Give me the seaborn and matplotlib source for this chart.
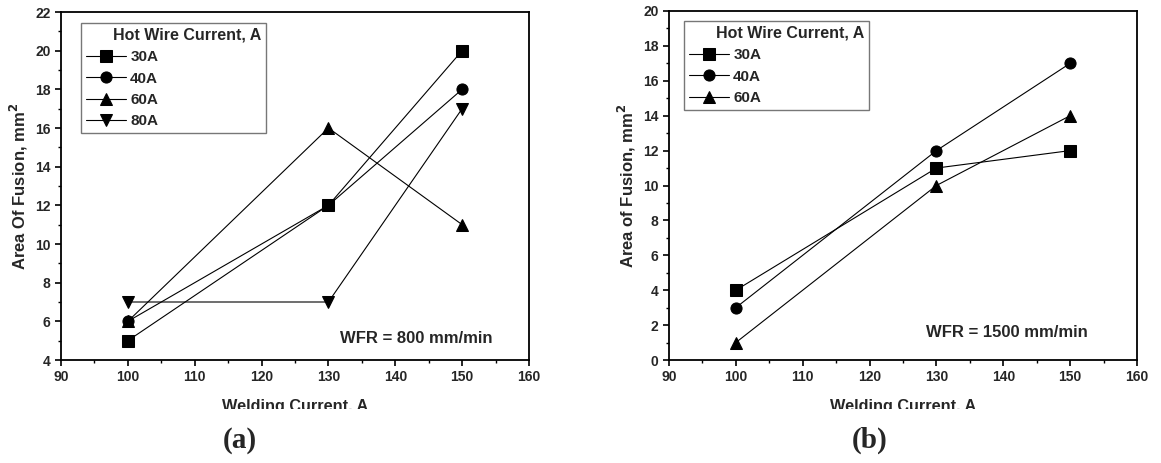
import matplotlib
matplotlib.use("Agg")
import matplotlib.pyplot as plt
import seaborn as sns
import pandas as pd
from matplotlib.ticker import MultipleLocator
from matplotlib.transforms import Bbox

welding_current = [100, 130, 150]

# panel (a): WFR = 800 mm/min
a_series = ["30A", "40A", "60A", "80A"]
a_30 = [5, 12, 20]
a_40 = [6, 12, 18]
a_60 = [6, 16, 11]
a_80 = [7, 7, 17]

# panel (b): WFR = 1500 mm/min
b_series = ["30A", "40A", "60A"]
b_30 = [4, 11, 12]
b_40 = [3, 12, 17]
b_60 = [1, 10, 14]

markers_map = {"30A": "s", "40A": "o", "60A": "^", "80A": "v"}

sns.set_theme(style="white")
plt.rcParams["font.family"] = ["Liberation Sans", "DejaVu Sans"]
plt.rcParams["font.weight"] = "bold"

W, H = 1161, 463
fig = plt.figure(figsize=(W / 100, H / 100), dpi=100)

def px_axes(x0, y0, x1, y1):
    return fig.add_axes([x0 / W, 1 - y1 / H, (x1 - x0) / W, (y1 - y0) / H])

ax_a = px_axes(61, 12, 529, 360)
ax_b = px_axes(669, 11, 1137, 360)

def make_df(series, values):
    rows = []
    for s, vals in zip(series, values):
        for x, y in zip(welding_current, vals):
            rows.append({"Welding": x, "Area": y, "Hot": s})
    return pd.DataFrame(rows)

df_a = make_df(a_series, [a_30, a_40, a_60, a_80])
df_b = make_df(b_series, [b_30, b_40, b_60])

def draw(ax, df, series, ylim, ylabel, wfr, wfr_pos, legend_box, label_letter, letter_x):
    sns.lineplot(data=df, x="Welding", y="Area", style="Hot", style_order=series,
                 markers={s: markers_map[s] for s in series}, dashes=False,
                 color="black", linewidth=0.8, markersize=8, markeredgecolor="black",
                 ax=ax, legend=True)
    ax.set_xlim(90, 160)
    ax.set_ylim(*ylim)
    ax.xaxis.set_major_locator(MultipleLocator(10))
    ax.xaxis.set_minor_locator(MultipleLocator(5))
    ax.yaxis.set_major_locator(MultipleLocator(2))
    ax.yaxis.set_minor_locator(MultipleLocator(1))
    ax.tick_params(which="major", direction="out", length=4.5, width=1.2, color="black",
                   labelsize=10, bottom=True, left=True, top=False, right=False, pad=3)
    ax.tick_params(which="minor", direction="out", length=2.5, width=1.0, color="black",
                   bottom=True, left=True, top=False, right=False)
    for lab in ax.get_xticklabels() + ax.get_yticklabels():
        lab.set_fontweight("bold")
    for sp in ax.spines.values():
        sp.set_color("black")
        sp.set_linewidth(1.3)
        sp.set_visible(True)
    ax.set_ylabel(ylabel, fontsize=12, fontweight="bold", labelpad=4)
    xl = ax.set_xlabel("Welding Current, A", fontsize=11.7, fontweight="bold")
    ax.xaxis.set_label_coords(0.5, -(399 - 360) / ax.bbox.height)
    xl.set_va("top")
    # clip the x label at the bottom like the reference
    clip = Bbox.from_extents(0, H - 409, W, H)
    xl.set_clip_box(clip)
    xl.set_clip_on(True)
    ax.text(wfr_pos[0], wfr_pos[1], wfr, transform=ax.transAxes, ha="right", va="center",
            fontsize=12, fontweight="bold")
    handles, labels = ax.get_legend_handles_labels()
    for h in handles:
        h.set_linewidth(0.8)
    x0, y0, x1, y1 = legend_box
    ax.get_legend().remove()
    axh = ax.bbox.height
    ax_top_px = H - ax.bbox.y1
    leg = ax.legend(handles, labels, title="      Hot Wire Current, A",
                    loc="upper left",
                    bbox_to_anchor=((x0 - ax.bbox.x0) / ax.bbox.width,
                                    1 - (y0 - ax_top_px) / axh),
                    frameon=True, fancybox=False, edgecolor="#555555",
                    prop={"weight": "bold", "size": 11},
                    title_fontproperties={"weight": "bold", "size": 11.5},
                    handlelength=2.6, handletextpad=0.3, labelspacing=0.48,
                    borderpad=0.32, borderaxespad=0)
    leg.get_frame().set_linewidth(1.0)
    leg._legend_box.align = "left"
    fig.text(letter_x / W, 1 - 440 / H, label_letter, ha="center", va="center",
             fontsize=21, fontweight="bold", family="Liberation Serif")

draw(ax_a, df_a, a_series, (4, 22), "Area Of Fusion, mm$^\\mathbf{2}$",
     "WFR = 800 mm/min", (0.923, 0.063), (81, 23, 262, 130), "(a)", 240)
draw(ax_b, df_b, b_series, (0, 20), "Area of Fusion, mm$^\\mathbf{2}$",
     "WFR = 1500 mm/min", (0.895, 0.080), (684, 21, 865, 108), "(b)", 870)

fig.savefig("out.png", dpi=100, facecolor="white")
